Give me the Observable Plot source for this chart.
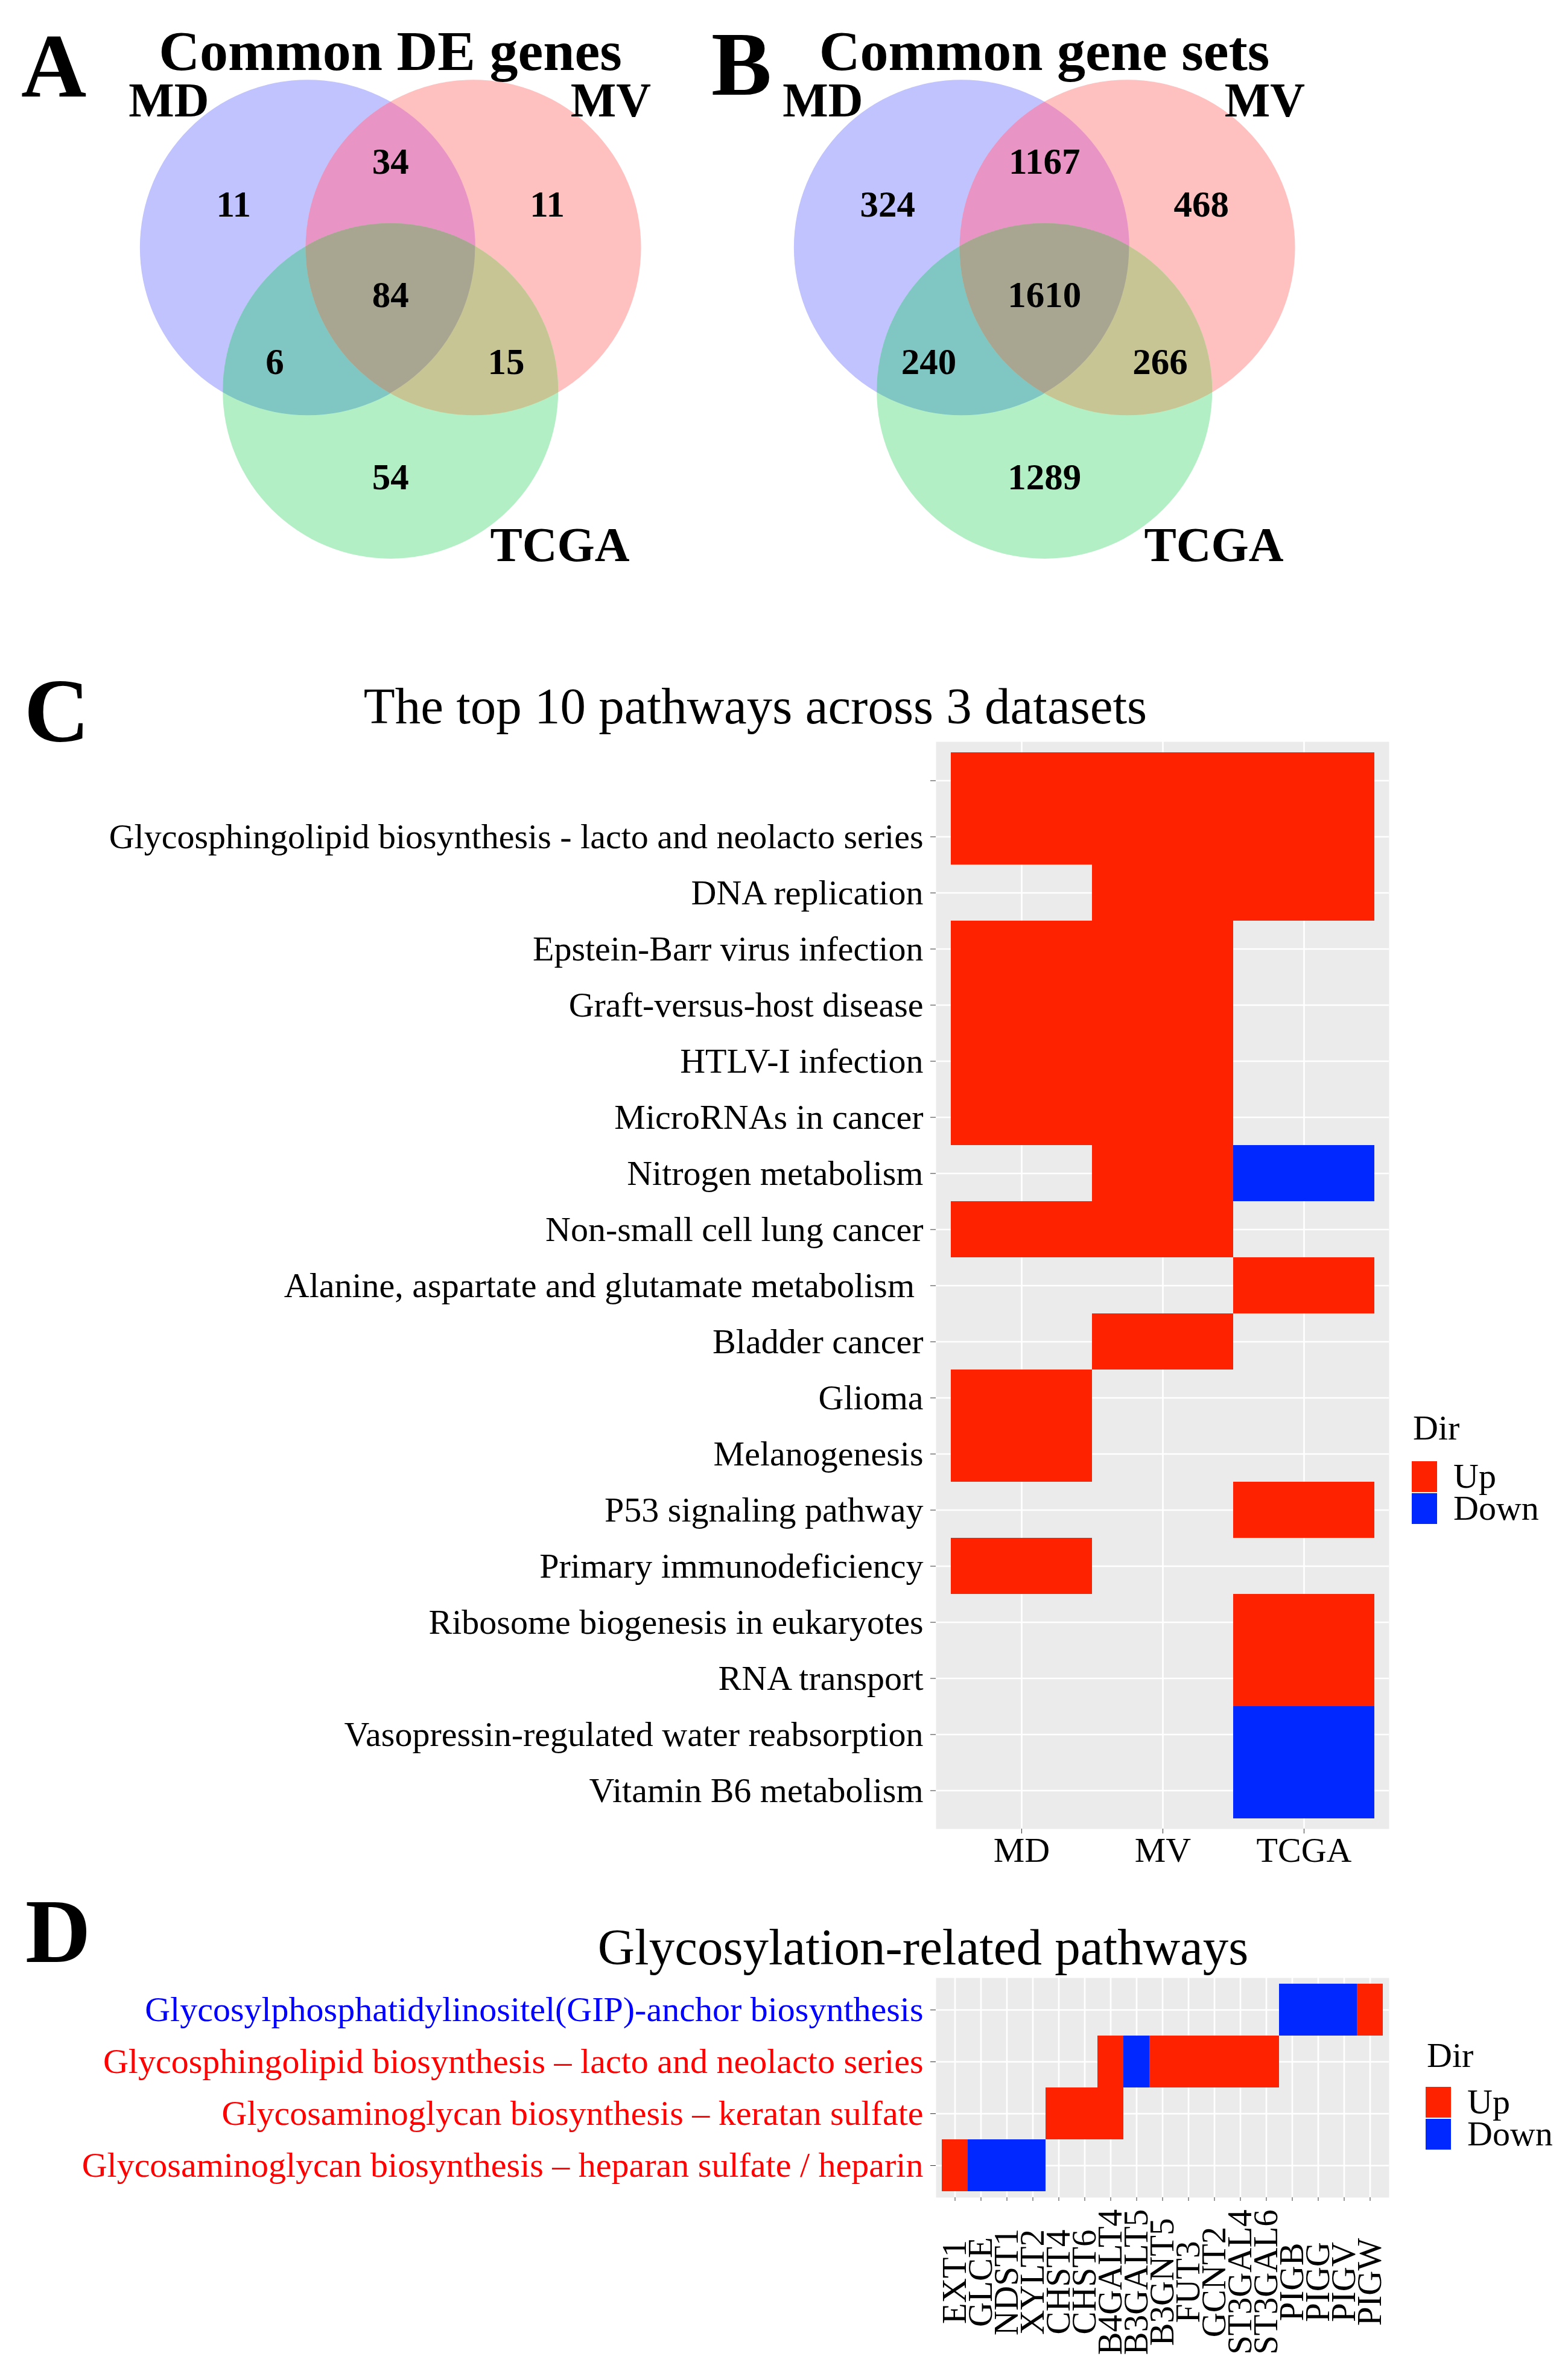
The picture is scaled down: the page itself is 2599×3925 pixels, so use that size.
<!DOCTYPE html>
<html>
<head>
<meta charset="utf-8">
<script src="https://cdn.jsdelivr.net/npm/d3@7"></script>
<script src="https://cdn.jsdelivr.net/npm/@observablehq/plot@0.6"></script>
<style>
html, body { margin: 0; padding: 0; background: #fff; }
#page { position: relative; width: 2599px; height: 3925px; background: #fff; overflow: hidden; }
</style>
</head>
<body>
<div id="page"></div>
<script>
// ---------------- DATA ----------------
// Venn diagrams (A, B)
const vennSets = ["MD", "MV", "TCGA"];
const circleX = [-0.494, 0.494, 0];
const circleY = [0.285, 0.285, -0.570];
const circleR = [1, 1, 1];
// region order: MD only, MD∩MV, MV only, all three, MD∩TCGA, MV∩TCGA, TCGA only
const regionNames = ["MD only", "MD∩MV", "MV only", "MD∩MV∩TCGA", "MD∩TCGA", "MV∩TCGA", "TCGA only"];
const regionColors = ["#C0C3FD", "#E895C5", "#FFC0C0", "#A8A591", "#80C6C2", "#C8C594", "#B3EFC5"];
const regionX = [-0.935, 0, 0.935, 0, -0.69, 0.69, 0];
const regionY = [0.468, 0.725, 0.468, -0.070, -0.471, -0.471, -1.155];
const countsA = [11, 34, 11, 84, 6, 15, 54];
const countsB = [324, 1167, 468, 1610, 240, 266, 1289];
const setLabelX = [-1.321, 1.314, 1.01];
const setLabelY = [1.068, 1.068, -1.583];

// Panel C
const datasets = ["MD", "MV", "TCGA"];
const pathwaysC = [
  " ",
  "Glycosphingolipid biosynthesis - lacto and neolacto series",
  "DNA replication",
  "Epstein-Barr virus infection",
  "Graft-versus-host disease",
  "HTLV-I infection",
  "MicroRNAs in cancer",
  "Nitrogen metabolism",
  "Non-small cell lung cancer",
  "Alanine, aspartate and glutamate metabolism\u00A0",
  "Bladder cancer",
  "Glioma",
  "Melanogenesis",
  "P53 signaling pathway",
  "Primary immunodeficiency",
  "Ribosome biogenesis in eukaryotes",
  "RNA transport",
  "Vasopressin-regulated water reabsorption",
  "Vitamin B6 metabolism"
];
const dirMD   = ["Up","Up",null,"Up","Up","Up","Up",null,"Up",null,null,"Up","Up",null,"Up",null,null,null,null];
const dirMV   = ["Up","Up","Up","Up","Up","Up","Up","Up","Up",null,"Up",null,null,null,null,null,null,null,null];
const dirTCGA = ["Up","Up","Up",null,null,null,null,"Down",null,"Up",null,null,null,"Up",null,"Up","Up","Down","Down"];

// Panel D
const genes = ["EXT1","GLCE","NDST1","XYLT2","CHST4","CHST6","B4GALT4","B3GALT5","B3GNT5","FUT3","GCNT2","ST3GAL4","ST3GAL6","PIGB","PIGG","PIGV","PIGW"];
const pathwaysD = [
  "Glycosylphosphatidylinositel(GIP)-anchor biosynthesis",
  "Glycosphingolipid biosynthesis \u2013 lacto and neolacto series",
  "Glycosaminoglycan biosynthesis \u2013 keratan sulfate",
  "Glycosaminoglycan biosynthesis \u2013 heparan sulfate / heparin"
];
const pathwayDColors = ["#0000FF", "#FF0000", "#FF0000", "#FF0000"];
const dPathway = [3,3,3,3, 2,2,2, 1,1,1,1,1,1,1, 0,0,0,0];
const dGene = ["EXT1","GLCE","NDST1","XYLT2", "CHST4","CHST6","B4GALT4",
               "B4GALT4","B3GALT5","B3GNT5","FUT3","GCNT2","ST3GAL4","ST3GAL6",
               "PIGB","PIGG","PIGV","PIGW"];
const dDir = ["Up","Down","Down","Down", "Up","Up","Up",
              "Up","Down","Up","Up","Up","Up","Up",
              "Down","Down","Down","Up"];

const dirs = ["Up", "Down"];
const dirColors = ["#FF2200", "#0028FF"];

// ---------------- HELPERS ----------------
const FONT = '"Liberation Serif", "Times New Roman", serif';
const SVGNS = "http://www.w3.org/2000/svg";
const page = document.getElementById("page");
function place(el, left, top) {
  el.style.position = "absolute";
  el.style.left = left + "px";
  el.style.top = top + "px";
  page.appendChild(el);
  return el;
}
const labels = [];
function label(txt, x, baseline, size, opts = {}) {
  labels.push([txt, x, baseline, size, opts]);
}
function flushLabels() {
  for (const [txt, x, baseline, size, {weight = "normal", anchor = "start", color = "black"}] of labels) {
    const d = document.createElement("div");
    d.textContent = txt;
    Object.assign(d.style, {
      fontFamily: FONT, fontSize: size + "px", lineHeight: size + "px",
      fontWeight: weight, color, whiteSpace: "pre"
    });
    if (anchor === "middle") d.style.transform = "translateX(-50%)";
    place(d, x, baseline - 0.8375 * size);
  }
}

// ---------------- VENN ----------------
// drawing layers: which circle, which region colour, clipped by which circles
const layerCircle = [0, 1, 2, 1, 2, 2, 2];
const layerRegion = ["MD only", "MV only", "TCGA only", "MD∩MV", "MD∩TCGA", "MV∩TCGA", "MD∩MV∩TCGA"];
const layerClip = [[], [], [], [0], [0], [1], [0, 1]];

function venn(counts, width, id) {
  const ppu = 278, cx = 646.7, cy = 489, H = 1000;
  const circles = vennSets.map((s, i) => ({set: s, x: circleX[i], y: circleY[i], r: circleR[i]}));
  const regions = counts.map((c, i) => ({count: String(c), x: regionX[i], y: regionY[i]}));
  const names = vennSets.map((s, i) => ({set: s, x: setLabelX[i], y: setLabelY[i]}));
  const svg = Plot.plot({
    width, height: H, margin: 0,
    x: {domain: [-cx / ppu, (width - cx) / ppu], axis: null},
    y: {domain: [-(H - cy) / ppu, cy / ppu], axis: null},
    r: {type: "linear", domain: [0, 1], range: [0, ppu]},
    color: {domain: regionNames, range: regionColors},
    style: {fontFamily: FONT, background: "transparent", overflow: "visible"},
    marks: [
      ...layerCircle.map((ci, k) =>
        Plot.dot([{...circles[ci], region: layerRegion[k]}],
                 {x: "x", y: "y", r: "r", fill: "region", stroke: "none"})),
      Plot.text(regions, {x: "x", y: "y", text: "count", fontSize: 61, fontWeight: "bold", lineAnchor: "bottom", fill: "black"}),
      Plot.text(names, {x: "x", y: "y", text: "set", fontSize: 80, fontWeight: "bold", lineAnchor: "bottom", fill: "black"})
    ]
  });
  // clip the overlap layers to the other circles
  const groups = svg.querySelectorAll('g[aria-label="dot"]');
  const defs = document.createElementNS(SVGNS, "defs");
  svg.insertBefore(defs, svg.firstChild);
  [0, 1].forEach(k => {
    const src = groups[k].querySelector("circle");
    const cp = document.createElementNS(SVGNS, "clipPath");
    cp.setAttribute("id", `${id}-clip${k}`);
    const c = document.createElementNS(SVGNS, "circle");
    for (const a of ["cx", "cy", "r", "transform"]) if (src.getAttribute(a) != null) c.setAttribute(a, src.getAttribute(a));
    cp.appendChild(c);
    defs.appendChild(cp);
  });
  layerClip.forEach((clips, k) => {
    if (!clips.length) return;
    let g = groups[k];
    g.setAttribute("clip-path", `url(#${id}-clip${clips[clips.length - 1]})`);
    for (let j = clips.length - 2; j >= 0; j--) {
      const w = document.createElementNS(SVGNS, "g");
      w.setAttribute("clip-path", `url(#${id}-clip${clips[j]})`);
      g.parentNode.insertBefore(w, g);
      w.appendChild(g);
      g = w;
    }
  });
  return svg;
}
place(venn(countsA, 1080, "vA"), 0, 0);
place(venn(countsB, 1200, "vB"), 1084, 0);

// ---------------- PANEL C ----------------
const dirByDataset = [dirMD, dirMV, dirTCGA];
const cellsC = [];
pathwaysC.forEach((p, i) => datasets.forEach((ds, j) => {
  const v = dirByDataset[j][i];
  if (v) cellsC.push({pathway: p, dataset: ds, dir: v});
}));

const chartC = Plot.plot({
  width: 2310, height: 1892,
  marginLeft: 1551, marginRight: 8, marginTop: 10, marginBottom: 80,
  style: {fontFamily: FONT, color: "black", background: "transparent", overflow: "visible"},
  x: {type: "band", domain: datasets, paddingInner: 0, paddingOuter: 0.1, label: null},
  y: {type: "band", domain: pathwaysC, paddingInner: 0, paddingOuter: 0.1, label: null},
  color: {domain: dirs, range: dirColors},
  marks: [
    Plot.frame({fill: "#EBEBEB", stroke: "none"}),
    Plot.gridX({stroke: "white", strokeOpacity: 1, strokeWidth: 2.7}),
    Plot.gridY({stroke: "white", strokeOpacity: 1, strokeWidth: 2.7}),
    Plot.cell(cellsC, {x: "dataset", y: "pathway", fill: "dir", inset: 0, shapeRendering: "crispEdges"}),
    Plot.axisX({tickSize: 8, tickPadding: 5, fontSize: 58, stroke: "#333", fill: "black", label: null}),
    Plot.axisY({tickSize: 9, tickPadding: 12, fontSize: 58, stroke: "#333", fill: "black", label: null})
  ]
});
place(chartC, 0, 1219);

// ---------------- PANEL D ----------------
const cellsD = dGene.map((g, i) => ({gene: g, pathway: pathwaysD[dPathway[i]], dir: dDir[i]}));
const chartD = Plot.plot({
  width: 2310, height: 657,
  marginLeft: 1551, marginRight: 8, marginTop: 10, marginBottom: 283,
  style: {fontFamily: FONT, color: "black", background: "transparent", overflow: "visible"},
  x: {type: "band", domain: genes, paddingInner: 0, paddingOuter: 0.1, label: null},
  y: {type: "band", domain: pathwaysD, paddingInner: 0, paddingOuter: 0.1, label: null},
  color: {domain: dirs, range: dirColors},
  marks: [
    Plot.frame({fill: "#EBEBEB", stroke: "none"}),
    Plot.gridX({stroke: "white", strokeOpacity: 1, strokeWidth: 2.7}),
    Plot.gridY({stroke: "white", strokeOpacity: 1, strokeWidth: 2.7}),
    Plot.cell(cellsD, {x: "gene", y: "pathway", fill: "dir", inset: 0, shapeRendering: "crispEdges"}),
    Plot.axisX({tickSize: 6, tickPadding: 134, tickRotate: -90, textAnchor: "middle", lineAnchor: "middle",
                fontSize: 57, stroke: "#333", fill: "black", label: null}),
    ...pathwaysD.map((p, i) => Plot.axisY([p], {tickSize: 9, tickPadding: 12, fontSize: 58,
                stroke: "#333", fill: pathwayDColors[i], label: null}))
  ]
});
place(chartD, 0, 3268);

// ---------------- LEGENDS ----------------
function dirLegend(chart, x, titleBaseline, keyTop) {
  const sc = chart.scale("color");
  label("Dir", x + 2, titleBaseline, 58);
  sc.domain.forEach((d, i) => {
    const sw = document.createElement("div");
    Object.assign(sw.style, {width: "42px", height: "51px", background: sc.apply(d)});
    const top = keyTop + i * 53;
    place(sw, x, top);
    label(d, x + 69, top + 25.5 + 19, 58);
  });
}
dirLegend(chartC, 2340, 2387, 2422);
dirLegend(chartD, 2363, 3427, 3459);

// ---------------- TITLES / PANEL LETTERS ----------------
label("A", 35, 160, 150, {weight: "bold"});
label("B", 1179, 157, 150, {weight: "bold"});
label("C", 40, 1229, 150, {weight: "bold"});
label("D", 42, 3252, 150, {weight: "bold"});
label("Common DE genes", 647, 116, 94, {weight: "bold", anchor: "middle"});
label("Common gene sets", 1731, 116, 94, {weight: "bold", anchor: "middle"});
label("The top 10 pathways across 3 datasets", 1252, 1199, 85, {anchor: "middle"});
label("Glycosylation-related pathways", 1530, 3256, 85, {anchor: "middle"});
flushLabels();
</script>
</body>
</html>
